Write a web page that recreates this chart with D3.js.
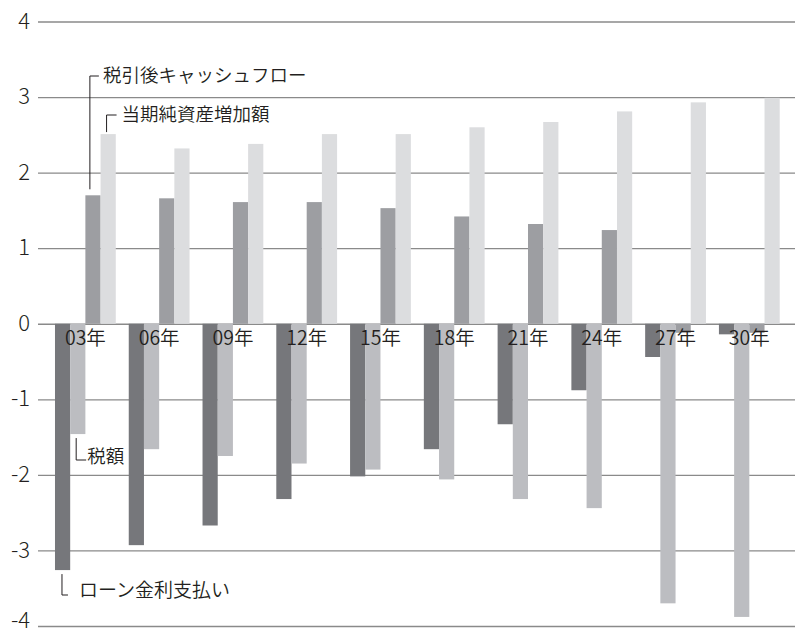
<!DOCTYPE html>
<html>
<head>
<meta charset="utf-8">
<script src="https://cdn.jsdelivr.net/npm/d3@7"></script>
<style>
html,body{margin:0;padding:0;background:#fff;}
svg{display:block;}
text{font-family:"Noto Sans CJK JP","Noto Sans",sans-serif;fill:#231f20;}
</style>
</head>
<body>
<svg id="chart" width="795" height="634"></svg>
<script>
const categories = ["03年","06年","09年","12年","15年","18年","21年","24年","27年","30年"];
const loanInterest = [-3.26,-2.93,-2.67,-2.32,-2.02,-1.66,-1.33,-0.88,-0.44,-0.14];
const taxAmount = [-1.46,-1.66,-1.75,-1.85,-1.93,-2.06,-2.32,-2.44,-3.70,-3.88];
const afterTaxCF = [1.70,1.66,1.61,1.61,1.53,1.42,1.32,1.24,-0.12,-0.12];
const netAssetIncrease = [2.51,2.32,2.38,2.51,2.51,2.60,2.67,2.81,2.93,2.99];
const yTicks = [-4,-3,-2,-1,0,1,2,3,4];
const seriesNames = ["ローン金利支払い","税額","税引後キャッシュフロー","当期純資産増加額"];
const seriesColors = ["#76777b","#bcbdc1","#9d9ea2","#dcdddf"];

const series = [loanInterest, taxAmount, afterTaxCF, netAssetIncrease];
const data = categories.map((c,i)=>({cat:c, values: series.map((s,k)=>({k, v:s[i]}))}));

const svg = d3.select("#chart");
const y = d3.scaleLinear().domain([-4,4]).range([626,21.5]);
const x = d3.scaleBand().domain(categories).range([42,792.7]).paddingInner(0.176).paddingOuter(0.176);
const xs = d3.scaleBand().domain([0,1,2,3]).range([0,x.bandwidth()]);

// grid + y axis
const yAxis = d3.axisLeft(y).tickValues(yTicks).tickSize(-(795-38)).tickPadding(8).tickFormat(d3.format("d"));
const ga = svg.append("g").attr("transform","translate(38,0)").call(yAxis);
ga.select(".domain").remove();
ga.selectAll(".tick line").attr("stroke","#8a8a8a").attr("stroke-width",1.3);
ga.selectAll(".tick text").attr("font-size",22).attr("font-weight",300)
  .attr("dy", d => d === -4 ? "0.08em" : "0.3em").style("fill","#231f20")
  .text(d => d<0 ? "-" + Math.abs(d) : d);

// bars
const groups = svg.append("g").selectAll("g").data(data).join("g")
  .attr("transform", d=>`translate(${x(d.cat)},0)`);
groups.selectAll("rect").data(d=>d.values).join("rect")
  .attr("x", d=>xs(d.k))
  .attr("width", xs.bandwidth())
  .attr("y", d=>y(Math.max(0,d.v)))
  .attr("height", d=>Math.abs(y(d.v)-y(0)))
  .attr("fill", d=>seriesColors[d.k]);

// category labels
const xAxis = d3.axisBottom(x).tickSize(0).tickPadding(7);
const gx = svg.append("g").attr("transform",`translate(0,${y(0)})`).call(xAxis);
gx.select(".domain").remove();
gx.selectAll(".tick text").attr("font-size",19.5).attr("font-weight",350).style("fill","#231f20");

// annotations
const ann = svg.append("g").attr("stroke","#231f20").attr("stroke-width",1).attr("fill","none");
const x0 = x(categories[0]);
const fs = 18.5, fw = 350;
// after-tax CF
{
  const lx = x0 + xs(2) + 4.5, top = y(afterTaxCF[0]) - 6, ly = 76;
  ann.append("path").attr("d",`M${lx},${top}V${ly}H${lx+9}`);
  svg.append("text").attr("x",lx+13).attr("y",ly).attr("dy","0.35em").attr("font-size",fs).attr("font-weight",fw).text(seriesNames[2]);
}
// net asset increase
{
  const lx = x0 + xs(3) + 6, top = y(netAssetIncrease[0]) - 2, ly = 115;
  ann.append("path").attr("d",`M${lx},${top}V${ly}H${lx+10}`);
  svg.append("text").attr("x",lx+15).attr("y",ly).attr("dy","0.35em").attr("font-size",fs).attr("font-weight",fw).text(seriesNames[3]);
}
// tax
{
  const lx = x0 + xs(1) + 6, top = y(taxAmount[0]) + 4, ly = 460;
  ann.append("path").attr("d",`M${lx},${top}V${ly}H${lx+10}`);
  svg.append("text").attr("x",lx+11).attr("y",ly-1).attr("dy","0.2em").attr("font-size",fs).attr("font-weight",fw).text(seriesNames[1]);
}
// loan interest
{
  const lx = x0 + xs(0) + 7, top = y(loanInterest[0]) + 4, ly = 595;
  ann.append("path").attr("d",`M${lx},${top}V${ly}H${lx+6}`);
  svg.append("text").attr("x",lx+17).attr("y",ly-2).attr("dy","0.2em").attr("font-size",19).attr("font-weight",fw).text(seriesNames[0]);
}
</script>
</body>
</html>
